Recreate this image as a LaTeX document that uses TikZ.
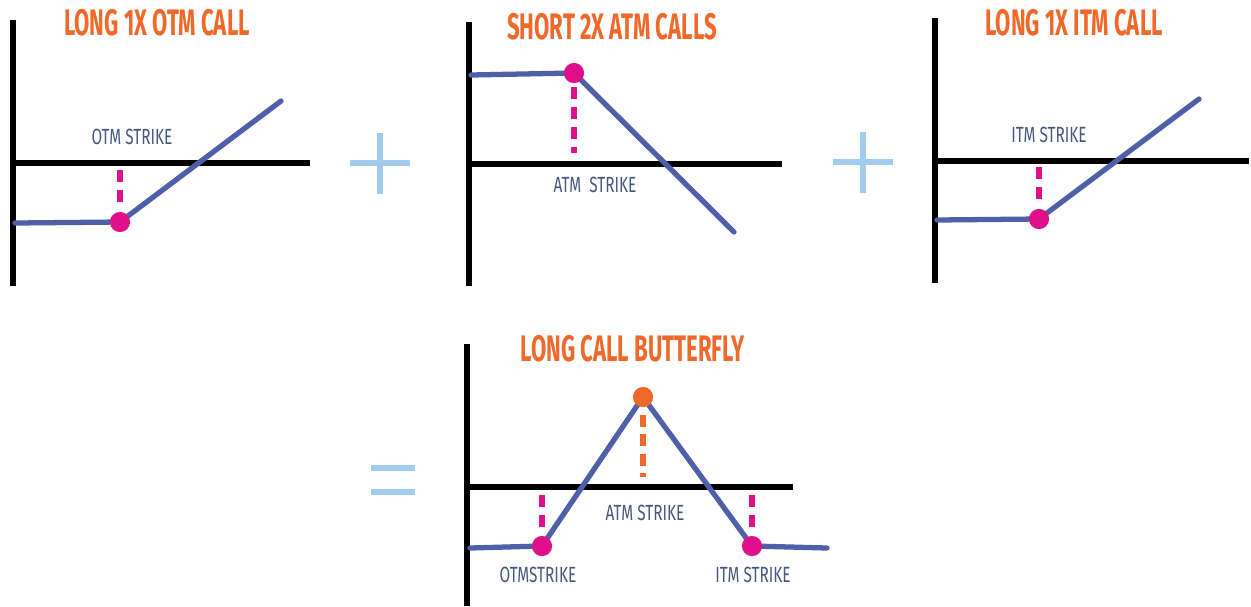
\documentclass[tikz,border=0pt]{standalone}
\usepackage{fontspec}
\newfontfamily\titlefont[FakeStretch=0.6]{Fira Sans}
\newfontfamily\labelfont[FakeStretch=0.7]{Fira Sans}
\definecolor{axisc}{HTML}{000000}
\definecolor{payc}{HTML}{4F5FA8}
\definecolor{dotc}{HTML}{E0108A}
\definecolor{orangec}{HTML}{F0692A}
\definecolor{labc}{HTML}{46577E}
\definecolor{opc}{HTML}{A3CBEB}
\begin{document}
\begin{tikzpicture}[x=0.02cm,y=-0.02cm,
  axis/.style={line width=2.9pt,draw=axisc},
  payoff/.style={line width=3pt,draw=payc,line cap=round,line join=round},
  strikedash/.style={line width=3.4pt,draw=dotc,dash pattern=on 6.8pt off 4.5pt},
  atmdash/.style={line width=3.4pt,draw=orangec,dash pattern=on 6.8pt off 4.2pt},
  dotnode/.style={circle,fill=dotc,inner sep=0pt,minimum size=11.5pt},
  peaknode/.style={circle,fill=orangec,inner sep=0pt,minimum size=11.5pt},
  title/.style={text=orangec,font=\titlefont\bfseries\fontsize{21}{21}\selectfont,inner sep=0pt},
  lab/.style={text=labc,font=\labelfont\fontsize{12.5}{13}\selectfont,inner sep=0pt},
  opbar/.style={line width=3.4pt,draw=opc}
]
\useasboundingbox (0,0) rectangle (1251,606);

% ---------- Panel 1: Long 1x OTM call ----------
\coordinate (p1top) at (13,20);
\coordinate (p1bot) at (13,286);
\coordinate (p1o) at (11,163);
\coordinate (p1r) at (310,163);
\draw[axis] (p1top) -- (p1bot);
\draw[axis] (p1o) -- (p1r);
\coordinate (p1a) at (15,223);
\coordinate (p1k) at (120,222);
\coordinate (p1e) at (281,101);
\coordinate (p1d1) at (120,170);
\coordinate (p1d2) at (120,204);
\draw[strikedash] (p1d1) -- (p1d2);
\draw[payoff] (p1a) -- (p1k) -- (p1e);
\node[dotnode] (p1dot) at (p1k) {};
\node[title] (t1) at (157,23) {LONG 1X OTM CALL};
\node[lab] (l1) at (132,137) {OTM STRIKE};

% plus 1
\coordinate (pl1a) at (350,163);
\coordinate (pl1b) at (410,163);
\coordinate (pl1c) at (380,133);
\coordinate (pl1d) at (380,194);
\draw[opbar] (pl1a) -- (pl1b);
\draw[opbar] (pl1c) -- (pl1d);

% ---------- Panel 2: Short 2x ATM calls ----------
\coordinate (p2top) at (469,22);
\coordinate (p2bot) at (469,286);
\coordinate (p2o) at (467,164);
\coordinate (p2r) at (782,164);
\draw[axis] (p2top) -- (p2bot);
\draw[axis] (p2o) -- (p2r);
\coordinate (p2a) at (471,75);
\coordinate (p2k) at (574,73);
\coordinate (p2e) at (734,232);
\coordinate (p2d1) at (574,87);
\coordinate (p2d2) at (574,153);
\draw[strikedash] (p2d1) -- (p2d2);
\draw[payoff] (p2a) -- (p2k) -- (p2e);
\node[dotnode] (p2dot) at (p2k) {};
\node[title] (t2) at (612,27) {SHORT 2X ATM CALLS};
\node[lab] (l2) at (595,185) {ATM\ \ STRIKE};

% plus 2
\coordinate (pl2a) at (833,162);
\coordinate (pl2b) at (893,162);
\coordinate (pl2c) at (863,132);
\coordinate (pl2d) at (863,193);
\draw[opbar] (pl2a) -- (pl2b);
\draw[opbar] (pl2c) -- (pl2d);

% ---------- Panel 3: Long 1x ITM call ----------
\coordinate (p3top) at (935,18);
\coordinate (p3bot) at (935,283);
\coordinate (p3o) at (933,161);
\coordinate (p3r) at (1249,161);
\draw[axis] (p3top) -- (p3bot);
\draw[axis] (p3o) -- (p3r);
\coordinate (p3a) at (937,220);
\coordinate (p3k) at (1039,219);
\coordinate (p3e) at (1199,99);
\coordinate (p3d1) at (1039,167);
\coordinate (p3d2) at (1039,201);
\draw[strikedash] (p3d1) -- (p3d2);
\draw[payoff] (p3a) -- (p3k) -- (p3e);
\node[dotnode] (p3dot) at (p3k) {};
\node[title] (t3) at (1074,23) {LONG 1X ITM CALL};
\node[lab] (l3) at (1049,135) {ITM STRIKE};

% equals
\coordinate (eq1a) at (371,468);
\coordinate (eq1b) at (415,468);
\coordinate (eq2a) at (371,492);
\coordinate (eq2b) at (415,492);
\draw[opbar] (eq1a) -- (eq1b);
\draw[opbar] (eq2a) -- (eq2b);

% ---------- Panel 4: Long call butterfly ----------
\coordinate (p4top) at (467,344);
\coordinate (p4bot) at (467,606);
\coordinate (p4o) at (465,487);
\coordinate (p4r) at (793,487);
\draw[axis] (p4top) -- (p4bot);
\draw[axis] (p4o) -- (p4r);
\coordinate (p4a) at (470,548);
\coordinate (p4k1) at (542,546);
\coordinate (p4pk) at (643,397);
\coordinate (p4k2) at (752,546);
\coordinate (p4e) at (827,548);
\coordinate (p4d1) at (542,495);
\coordinate (p4d2) at (542,528);
\coordinate (p4d3) at (752,495);
\coordinate (p4d4) at (752,528);
\coordinate (p4d5) at (643,415);
\coordinate (p4d6) at (643,477);
\draw[strikedash] (p4d1) -- (p4d2);
\draw[strikedash] (p4d3) -- (p4d4);
\draw[atmdash] (p4d5) -- (p4d6);
\draw[payoff] (p4a) -- (p4k1) -- (p4pk) -- (p4k2) -- (p4e);
\node[dotnode] (p4dot1) at (p4k1) {};
\node[dotnode] (p4dot2) at (p4k2) {};
\node[peaknode] (p4peak) at (p4pk) {};
\node[title] (t4) at (633,349) {LONG CALL BUTTERFLY};
\node[lab] (l4a) at (645,513) {ATM STRIKE};
\node[lab] (l4b) at (538,575) {OTMSTRIKE};
\node[lab] (l4c) at (753,575) {ITM STRIKE};
\end{tikzpicture}
\end{document}
